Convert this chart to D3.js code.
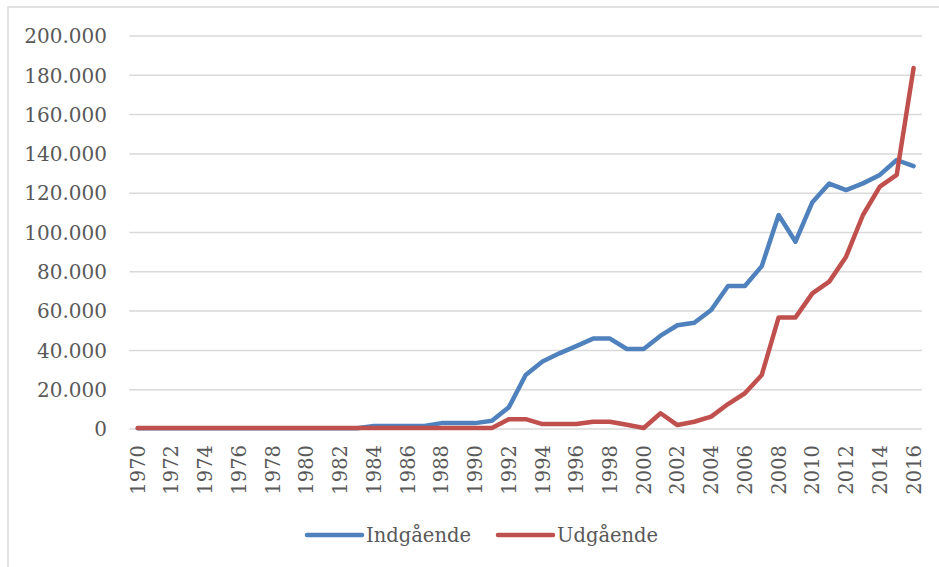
<!DOCTYPE html>
<html>
  <head>
    <meta charset="utf-8">
    <style>
      body,
      html {
        width: 100%;
        height: 100%;
        margin: 0;
        padding: 0;
        overflow: hidden;
        background: #fff;
      }
      svg {
        display: block;
      }
    </style>
  </head>
  <body>
    <script src="https://cdn.jsdelivr.net/npm/d3@7"></script>
    <script>
      const years = d3.range(1970, 2017);

      // Indgående (blue)
      const indgaaende = [
        400, 400, 400, 400, 400, 400, 400, 400, 400, 400, 400, 400, 400, 400,
        1500, 1500, 1500, 1500, 3000, 3000, 3000, 4200, 11000,
        27500, 34300, 38500, 42200, 46000, 46000, 40700, 40700, 47500, 52800,
        54100, 60600, 72800, 72800, 82900, 108900, 95300, 115400, 124900,
        121600, 125000, 129300, 136900, 133800,
      ];

      // Udgående (red)
      const udgaaende = [
        500, 500, 500, 500, 500, 500, 500, 500, 500, 500, 500, 500, 500, 500,
        500, 500, 500, 500, 500, 500, 500, 500,
        5000, 5000, 2500, 2500, 2500, 3700, 3700, 2200, 500, 8000, 2000, 3700,
        6300, 12700, 18200, 27500, 56800, 56800, 69000, 75000, 87700, 108900,
        123300, 129300, 183700,
      ];

      const yTicks = [0, 20000, 40000, 60000, 80000, 100000, 120000, 140000, 160000, 180000, 200000];
      const xTickYears = years.filter((y) => y % 2 === 0);

      const series = [
        { name: "Indgående", values: indgaaende, color: "#4f81bd" },
        { name: "Udgående", values: udgaaende, color: "#c0504d" },
      ];

      const width = 939;
      const height = 567;
      const font = "'DejaVu Serif', 'Liberation Serif', serif";
      const textColor = "#595959";

      const svg = d3
        .select("body")
        .append("svg")
        .attr("width", width)
        .attr("height", height);

      // chart border
      svg
        .append("rect")
        .attr("x", 8)
        .attr("y", 7)
        .attr("width", 960)
        .attr("height", 600)
        .attr("fill", "none")
        .attr("stroke", "#d9d9d9")
        .attr("stroke-width", 1.5);

      const x = d3.scaleBand().domain(years).range([129.3, 922]);
      const y = d3.scaleLinear().domain([0, 200000]).range([429, 36]);
      const fmt = (v) => d3.format(",")(v).replace(/,/g, ".");

      // gridlines
      svg
        .append("g")
        .selectAll("line")
        .data(yTicks)
        .enter()
        .append("line")
        .attr("x1", x.range()[0])
        .attr("x2", x.range()[1])
        .attr("y1", (d) => y(d))
        .attr("y2", (d) => y(d))
        .attr("stroke", "#d9d9d9")
        .attr("stroke-width", 1.5);

      // y tick labels
      svg
        .append("g")
        .selectAll("text")
        .data(yTicks)
        .enter()
        .append("text")
        .attr("x", 107)
        .attr("y", (d) => y(d))
        .attr("dy", "0.36em")
        .attr("text-anchor", "end")
        .attr("fill", textColor)
        .style("font-family", font)
        .style("font-size", "20px")
        .text(fmt);

      // x tick labels (rotated)
      svg
        .append("g")
        .selectAll("text")
        .data(xTickYears)
        .enter()
        .append("text")
        .attr("transform", (d) => `translate(${x(d) + x.bandwidth() / 2},445) rotate(-90)`)
        .attr("dy", "0.36em")
        .attr("text-anchor", "end")
        .attr("fill", textColor)
        .style("font-family", font)
        .style("font-size", "19.5px")
        .text((d) => d);

      const line = d3
        .line()
        .x((d, i) => x(years[i]) + x.bandwidth() / 2)
        .y((d) => y(d));

      svg
        .append("g")
        .selectAll("path")
        .data(series)
        .enter()
        .append("path")
        .attr("d", (d) => line(d.values))
        .attr("fill", "none")
        .attr("stroke", (d) => d.color)
        .attr("stroke-width", 4.5)
        .attr("stroke-linejoin", "round")
        .attr("stroke-linecap", "round");

      // legend
      const legendPos = [
        { x1: 307, x2: 362, tx: 366 },
        { x1: 498, x2: 553, tx: 557 },
      ];
      const legend = svg
        .append("g")
        .selectAll("g")
        .data(series)
        .enter()
        .append("g");
      legend
        .append("line")
        .attr("x1", (d, i) => legendPos[i].x1)
        .attr("x2", (d, i) => legendPos[i].x2)
        .attr("y1", 535)
        .attr("y2", 535)
        .attr("stroke", (d) => d.color)
        .attr("stroke-width", 4.5)
        .attr("stroke-linecap", "round");
      legend
        .append("text")
        .attr("x", (d, i) => legendPos[i].tx)
        .attr("y", 535)
        .attr("dy", "0.36em")
        .attr("fill", textColor)
        .style("font-family", font)
        .style("font-size", "19.5px")
        .text((d) => d.name);
    </script>
  </body>
</html>
